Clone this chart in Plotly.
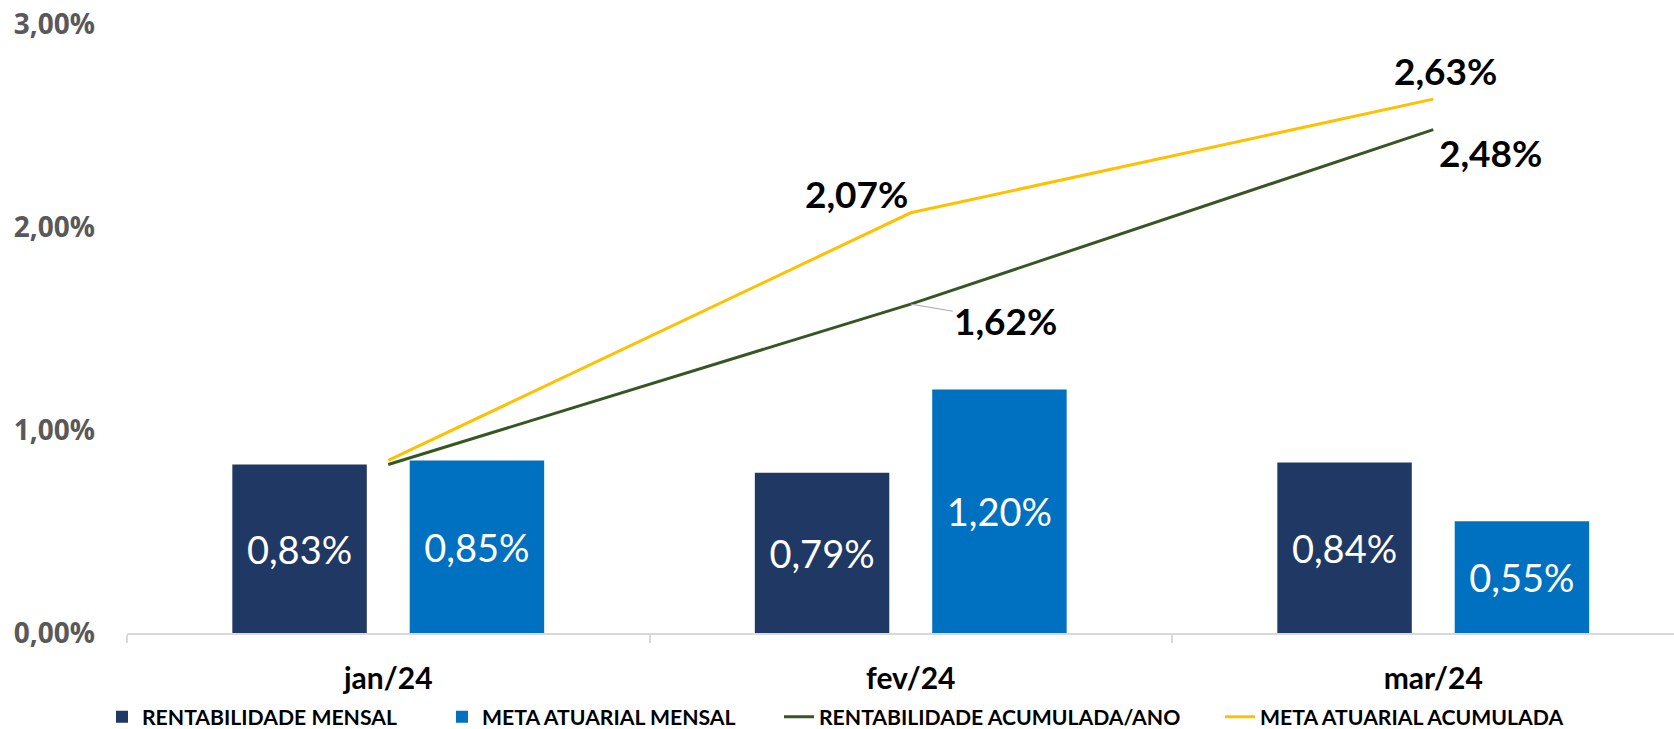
import plotly.graph_objects as go

categories = ["jan/24", "fev/24", "mar/24"]
rent_mensal = [0.83, 0.79, 0.84]
meta_mensal = [0.85, 1.20, 0.55]
rent_acum = [0.83, 1.62, 2.48]
meta_acum = [0.85, 2.07, 2.63]
series_names = ["RENTABILIDADE MENSAL", "META ATUARIAL MENSAL",
                "RENTABILIDADE ACUMULADA/ANO", "META ATUARIAL ACUMULADA"]
y_ticks = [0, 1, 2, 3]

C_DARK = "#203864"
C_BLUE = "#0070C0"
C_GREEN = "#375623"
C_YELLOW = "#FFC000"

W, H = 1674, 729
ML, MR, MT, MB = 127, 0, 24, 96
PW = W - ML - MR
PH = H - MT - MB


def px_to_paper_x(px):
    return (px - ML) / PW


def px_to_paper_y(py):
    return (H - MB - py) / PH


def fmt(v):
    return f"{v:.2f}%".replace(".", ",")


bar_font = dict(family="Lato", size=38, color="white")
fig = go.Figure()
fig.add_trace(go.Bar(x=categories, y=rent_mensal, name=series_names[0],
                     marker=dict(color=C_DARK, line=dict(width=0)),
                     texttemplate="%{y:.2f}%", textposition="inside",
                     insidetextanchor="middle", textangle=0, textfont=bar_font,
                     legend="legend"))
fig.add_trace(go.Bar(x=categories, y=meta_mensal, name=series_names[1],
                     marker=dict(color=C_BLUE, line=dict(width=0)),
                     texttemplate="%{y:.2f}%", textposition="inside",
                     insidetextanchor="middle", textangle=0, textfont=bar_font,
                     legend="legend2"))
fig.add_trace(go.Scatter(x=categories, y=rent_acum, name=series_names[2],
                         mode="lines", line=dict(color=C_GREEN, width=3),
                         legend="legend3"))
fig.add_trace(go.Scatter(x=categories, y=meta_acum, name=series_names[3],
                         mode="lines", line=dict(color=C_YELLOW, width=3),
                         legend="legend4"))

ann_font = dict(family="Lato", size=37, color="black", weight="bold")
# (series, index, xshift, yshift)
label_specs = [
    (meta_acum, 1, -54, 19),
    (meta_acum, 2, 12, 29),
    (rent_acum, 2, 57, -23),
]
for ser, i, xs, ys in label_specs:
    fig.add_annotation(x=categories[i], y=ser[i], text=fmt(ser[i]),
                       showarrow=False, xshift=xs, yshift=ys, font=ann_font)
# 1,62% label with leader line
fig.add_annotation(x=categories[1], y=rent_acum[1], text=fmt(rent_acum[1]),
                   showarrow=True, arrowhead=0, arrowwidth=1, arrowcolor="#A6A6A6",
                   ax=95, ay=16, standoff=0, font=ann_font)

legend_font = dict(family="Lato", size=21.2, color="black", weight="bold")
text_starts = [142, 482, 819, 1260]
legend_keys = ["legend", "legend2", "legend3", "legend4"]
legend_layout = {}
for key, ts in zip(legend_keys, text_starts):
    legend_layout[key] = dict(x=px_to_paper_x(ts - 40), y=px_to_paper_y(717),
                              xanchor="left", yanchor="middle",
                              orientation="h", font=legend_font,
                              bgcolor="rgba(0,0,0,0)", borderwidth=0,
                              itemclick=False, itemdoubleclick=False)

fig.update_layout(
    width=W, height=H,
    margin=dict(l=ML, r=MR, t=MT, b=MB, pad=0, autoexpand=False),
    paper_bgcolor="white", plot_bgcolor="white",
    barmode="group", bargap=0.321, bargroupgap=0.242,
    separators=",.",
    uniformtext=dict(mode="show", minsize=10),
    showlegend=True,
    **legend_layout,
)
fig.update_xaxes(
    type="category", range=[-0.5, -0.5 + PW / 522.5],
    showline=True, linecolor="#D9D9D9", linewidth=1.5,
    ticks="outside", tickson="boundaries", ticklen=8, tickcolor="#D9D9D9",
    tickwidth=1.5, showgrid=False, zeroline=False,
    tickfont=dict(family="Lato", size=30, color="black", weight="bold"),
    ticklabelstandoff=18,
)
fig.update_yaxes(
    range=[0, 3], tickvals=y_ticks, ticktext=[fmt(v) for v in y_ticks],
    showgrid=False, zeroline=False, showline=False, ticks="",
    tickfont=dict(family="Open Sans", size=28, color="#595959", weight="bold"),
    ticklabelstandoff=31,
)

fig.write_html("out.html", config={"displayModeBar": False},
               post_script="document.body.style.margin='0';")
